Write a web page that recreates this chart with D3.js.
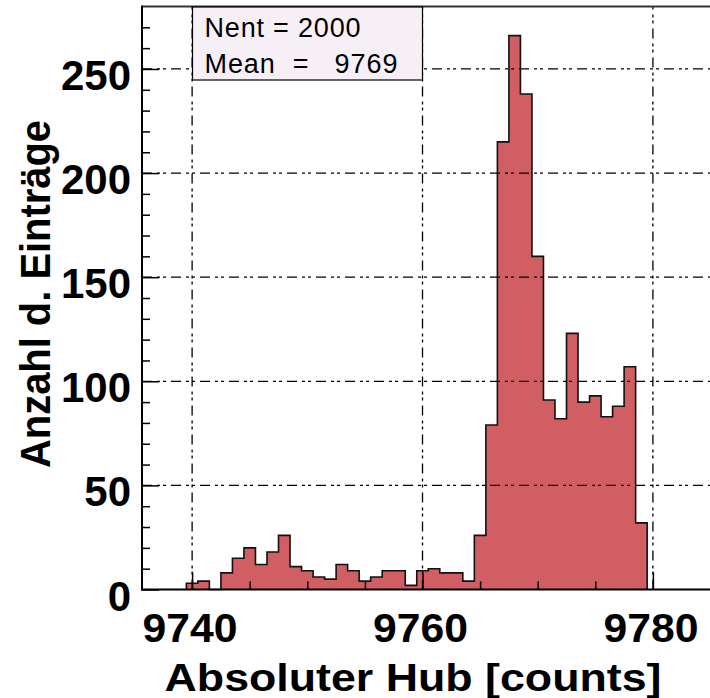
<!DOCTYPE html>
<html>
<head>
<meta charset="utf-8">
<script src="https://cdn.jsdelivr.net/npm/d3@7"></script>
<style>
  body { margin: 0; background: #fff; }
  svg { display: block; }
  text { font-family: "Liberation Sans", Arial, Helvetica, sans-serif; }
</style>
</head>
<body>
<div id="chart"></div>
<script>
// histogram: one bin per count, centred on the integer value
var binCenters = [9740, 9741, 9742, 9743, 9744, 9745, 9746, 9747, 9748, 9749,
                  9750, 9751, 9752, 9753, 9754, 9755, 9756, 9757, 9758, 9759,
                  9760, 9761, 9762, 9763, 9764, 9765, 9766, 9767, 9768, 9769,
                  9770, 9771, 9772, 9773, 9774, 9775, 9776, 9777, 9778, 9779];
var counts = [3, 4, 0, 8, 15, 20, 12, 18, 26, 11,
              9, 6, 5, 12, 9, 4, 6, 9, 9, 2,
              9, 10, 8, 8, 4, 26, 79, 215, 266, 238,
              160, 91, 82, 123, 90, 93, 83, 88, 107, 32];
var binWidth = 1;

var xLabelTicks = [9740, 9760, 9780];
var xMinorTicks = [9740, 9745, 9750, 9755, 9760, 9765, 9770, 9775, 9780, 9785];
var yLabelTicks = [0, 50, 100, 150, 200, 250];
var yMinorTicks = [0, 10, 20, 30, 40, 50, 60, 70, 80, 90, 100, 110, 120, 130,
                   140, 150, 160, 170, 180, 190, 200, 210, 220, 230, 240, 250, 260, 270];
var statsLines = ["Nent = 2000", "Mean  =   9769"];

var xTitle = "Absoluter Hub [counts]";
var yTitle = "Anzahl d. Einträge";

var W = 710, H = 698;
var frame = {left: 142, right: 718, top: 6.5, bottom: 589.5};

var svg = d3.select("#chart").append("svg")
    .attr("width", W)
    .attr("height", H);

var x = d3.scaleLinear()
    .domain([9735.65, 9785.65])
    .range([frame.left, frame.right]);

var y = d3.scaleLinear()
    .domain([0, 280])
    .range([frame.bottom, frame.top]);

// outline points for the step histogram
var pts = [[binCenters[0] - binWidth / 2, 0]];
binCenters.forEach(function(c, i) {
    pts.push([c - binWidth / 2, counts[i]]);
    pts.push([c + binWidth / 2, counts[i]]);
});
pts.push([binCenters[binCenters.length - 1] + binWidth / 2, 0]);

var line = d3.line()
    .x(function(d) { return x(d[0]); })
    .y(function(d) { return y(d[1]); });

svg.append("path")
    .datum(pts)
    .attr("d", line)
    .attr("fill", "#d05e62")
    .attr("stroke", "#111")
    .attr("stroke-width", 1.6)
    .attr("stroke-linejoin", "miter");

// grid (dash-dot-dot, over the histogram)
var dash = "10,5,3,3,3,5";
svg.append("g").selectAll("line")
    .data(yLabelTicks.filter(function(d) { return d > 0; }))
    .enter().append("line")
    .attr("x1", frame.left).attr("x2", frame.right)
    .attr("y1", function(d) { return y(d); })
    .attr("y2", function(d) { return y(d); })
    .attr("stroke", "#000")
    .attr("stroke-width", 1.3)
    .attr("stroke-dasharray", dash);

svg.append("g").selectAll("line")
    .data(xLabelTicks)
    .enter().append("line")
    .attr("x1", function(d) { return x(d); })
    .attr("x2", function(d) { return x(d); })
    .attr("y1", frame.bottom).attr("y2", frame.top)
    .attr("stroke", "#000")
    .attr("stroke-width", 1.3)
    .attr("stroke-dasharray", dash);

// ticks (inside the frame)
svg.append("g")
    .attr("transform", "translate(0," + frame.bottom + ")")
    .call(d3.axisBottom(x).tickValues(xMinorTicks).tickFormat("")
        .tickSize(0).tickSizeInner(-8).tickSizeOuter(0))
    .call(function(g) { g.select(".domain").remove(); })
    .selectAll("line")
    .attr("stroke", "#000")
    .attr("stroke-width", 1.5)
    .attr("y2", function(d) { return xLabelTicks.indexOf(d) >= 0 ? -17 : -8; });

svg.append("g")
    .attr("transform", "translate(" + frame.left + ",0)")
    .call(d3.axisLeft(y).tickValues(yMinorTicks).tickFormat("")
        .tickSizeInner(-8).tickSizeOuter(0))
    .call(function(g) { g.select(".domain").remove(); })
    .selectAll("line")
    .attr("stroke", "#000")
    .attr("stroke-width", 1.5)
    .attr("x2", function(d) { return yLabelTicks.indexOf(d) >= 0 ? 17 : 8; });

// frame
svg.append("line")
    .attr("x1", frame.left).attr("x2", frame.right)
    .attr("y1", frame.top).attr("y2", frame.top)
    .attr("stroke", "#333").attr("stroke-width", 2);
svg.append("line")
    .attr("x1", frame.left).attr("x2", frame.left)
    .attr("y1", frame.top - 1).attr("y2", frame.bottom + 1)
    .attr("stroke", "#000").attr("stroke-width", 2);
svg.append("line")
    .attr("x1", frame.left - 1).attr("x2", frame.right)
    .attr("y1", frame.bottom).attr("y2", frame.bottom)
    .attr("stroke", "#000").attr("stroke-width", 2.2);

// tick labels
svg.append("g").selectAll("text")
    .data(xLabelTicks)
    .enter().append("text")
    .attr("x", function(d) { return x(d) - 2; })
    .attr("y", 641.5)
    .attr("text-anchor", "middle")
    .attr("font-size", 40)
    .attr("font-weight", "bold")
    .attr("textLength", 95)
    .attr("lengthAdjust", "spacingAndGlyphs")
    .text(function(d) { return d; });

svg.append("g").selectAll("text")
    .data(yLabelTicks)
    .enter().append("text")
    .attr("x", 131)
    .attr("y", function(d) { return y(d) + 21; })
    .attr("text-anchor", "end")
    .attr("font-size", 42)
    .attr("font-weight", "bold")
    .text(function(d) { return d; });

// axis titles
svg.append("text")
    .attr("x", 413)
    .attr("y", 691)
    .attr("text-anchor", "middle")
    .attr("font-size", 38)
    .attr("font-weight", "bold")
    .attr("textLength", 497)
    .attr("lengthAdjust", "spacingAndGlyphs")
    .text(xTitle);

svg.append("text")
    .attr("transform", "translate(50,294) rotate(-90)")
    .attr("text-anchor", "middle")
    .attr("font-size", 42)
    .attr("font-weight", "bold")
    .attr("textLength", 348)
    .attr("lengthAdjust", "spacingAndGlyphs")
    .text(yTitle);

// stats box
var box = svg.append("g");
box.append("rect")
    .attr("x", 192.5).attr("y", 7)
    .attr("width", 230).attr("height", 73)
    .attr("fill", "#f6f0f6")
    .attr("stroke", "#000")
    .attr("stroke-width", 1.2);
box.selectAll("text")
    .data(statsLines)
    .enter().append("text")
    .attr("x", 204.5)
    .attr("y", function(d, i) { return 36.5 + i * 36; })
    .attr("font-size", 27)
    .attr("textLength", function(d, i) { return i === 0 ? 156 : 193; })
    .attr("lengthAdjust", "spacing")
    .style("white-space", "pre")
    .text(function(d) { return d; });
</script>
</body>
</html>
